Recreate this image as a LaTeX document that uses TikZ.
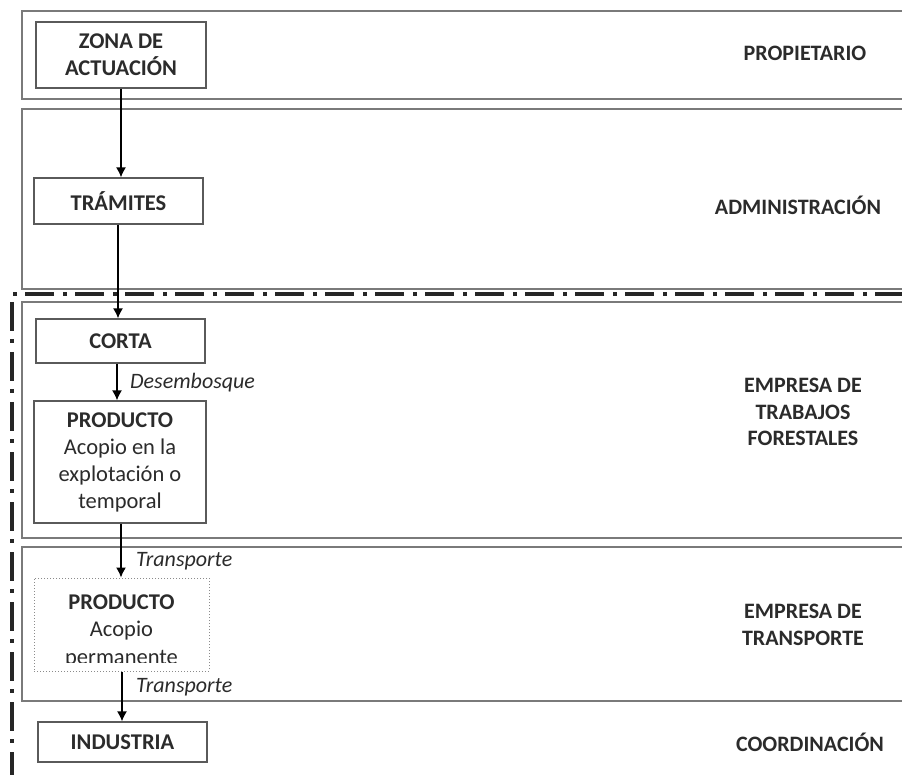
\documentclass[tikz,border=0pt]{standalone}
\usepackage{fontspec}
\setmainfont{Carlito}
\usetikzlibrary{arrows.meta}
\definecolor{txt}{HTML}{2B2B2B}
\definecolor{lanec}{HTML}{7A7A7A}
\definecolor{boxc}{HTML}{5A5A5A}
\tikzset{
  lane/.style={draw=lanec, line width=1.6pt},
  stepbox/.style={draw=boxc, line width=1.3pt, text=txt, align=center, inner sep=0pt,
     font=\fontsize{22.5}{27}\selectfont},
  dotbox/.style={draw=boxc!70, line width=1pt, dotted, inner sep=0pt},
  inner/.style={text=txt, anchor=base, inner sep=0pt, font=\fontsize{22.5}{27}\selectfont},
  role/.style={text=txt, align=center, font=\fontsize{22}{26.5}\selectfont\bfseries},
  lbl/.style={text=txt, anchor=west, inner sep=0pt, font=\fontsize{22}{24}\selectfont\itshape},
  flow/.style={draw=black, line width=1.4pt, -{Latex[length=10pt,width=10pt]}},
  dashdot/.style={draw=black!85, line width=3.6pt, dash pattern=on 29pt off 8pt on 4pt off 9pt}
}
\begin{document}
\begin{tikzpicture}[x=1pt,y=-1pt]
\useasboundingbox (0,0) rectangle (902,775);
% lanes
\draw[lane] (903,11) -- (22,11) -- (22,99) -- (903,99);
\draw[lane] (903,109) -- (22,109) -- (22,289) -- (903,289);
\draw[lane] (903,302) -- (22,302) -- (22,538) -- (903,538);
\draw[lane] (903,547) -- (22,547) -- (22,701) -- (903,701);
% dash-dot boundary
\draw[dashdot] (904,294) -- (12,294) -- (12,780);
% role labels
\node[role] (r1) at (805,53) {PROPIETARIO};
\node[role] (r2) at (798,205) {ADMINISTRACIÓN};
\node[role] (r3) at (803,412) {EMPRESA DE\\TRABAJOS\\FORESTALES};
\node[role] (r4) at (803,625) {EMPRESA DE\\TRANSPORTE};
\node[role] (r5) at (810,742) {COORDINACIÓN};
% boxes
\node[stepbox, minimum width=170pt, minimum height=66pt] (zona) at (121,55) {\bfseries ZONA DE\\\bfseries ACTUACIÓN};
\node[stepbox, minimum width=169pt, minimum height=46pt] (tram) at (118.5,201) {\bfseries TRÁMITES};
\node[stepbox, minimum width=169pt, minimum height=44pt] (corta) at (120.5,341) {\bfseries CORTA};
\node[stepbox, minimum width=172pt, minimum height=122pt] (prod1) at (120,462) {\bfseries PRODUCTO\\Acopio en la\\explotación o\\temporal};
\node[dotbox, minimum width=175pt, minimum height=93pt] (prod2) at (121.5,624.5) {};
\begin{scope}
\clip (30,578) rectangle (215,662);
\node[inner] (p2a) at (121.5,609) {\bfseries PRODUCTO};
\node[inner] (p2b) at (121.5,636) {Acopio};
\node[inner] (p2c) at (121.5,664) {permanente};
\end{scope}
\node[stepbox, minimum width=169pt, minimum height=40pt] (ind) at (122.5,742) {\bfseries INDUSTRIA};
% flows
\draw[flow] (zona.south -| 121,0) -- (tram.north -| 121,0);
\draw[flow] (tram.south -| 118,0) -- (corta.north -| 118,0);
\draw[flow] (corta.south -| 117,0) -- (prod1.north -| 117,0);
\draw[flow] (prod1.south -| 121,0) -- (prod2.north -| 121,0);
\draw[flow] (prod2.south -| 122,0) -- (ind.north -| 122,0);
% flow labels
\node[lbl] (l1) at (130,383) {Desembosque};
\node[lbl] (l2) at (136,561) {Transporte};
\node[lbl] (l3) at (136,687) {Transporte};
\end{tikzpicture}
\end{document}
